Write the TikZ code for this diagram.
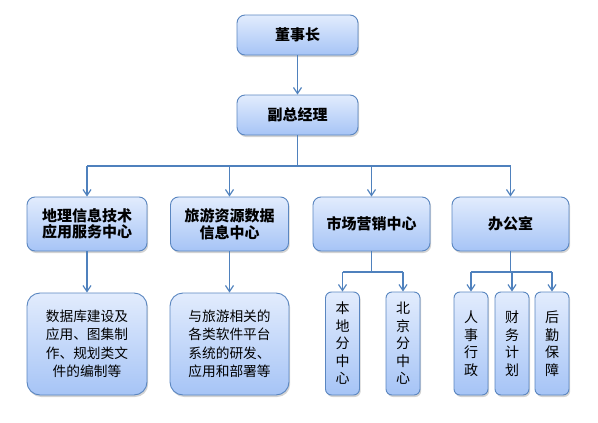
\documentclass[tikz,border=0pt]{standalone}
\usepackage{fontspec}
\setmainfont{Noto Sans CJK SC}
\usetikzlibrary{arrows.meta,shadows}
\definecolor{boxline}{HTML}{5A86C0}
\definecolor{boxtop}{HTML}{E2ECFD}
\definecolor{boxbot}{HTML}{A6C4F6}
\definecolor{wire}{HTML}{4F81BD}
\tikzset{
  unit/.style={draw=boxline, line width=0.9pt, top color=boxtop, bottom color=boxbot,
    drop shadow={shadow xshift=1.2pt, shadow yshift=-2pt, opacity=0.35},
    align=center, inner sep=0pt},
  head/.style={unit, rounded corners=8pt, font=\bfseries\fontsize{15}{16.5}\selectfont},
  task/.style={unit, rounded corners=13pt, minimum height=102pt, font=\fontsize{13.7}{18.5}\selectfont},
  slim/.style={unit, rounded corners=6pt, minimum width=34pt, minimum height=103pt, font=\fontsize{14}{17.5}\selectfont},
  wire/.style={draw=wire, line width=1.2pt},
  feed/.style={wire, -{Straight Barb[length=6pt,width=8pt]}}
}
\begin{document}
\begin{tikzpicture}[x=1pt,y=-1pt]
\useasboundingbox (0,0) rectangle (598,423);
% top
\node[head, minimum width=121pt, minimum height=40pt] (chair) at (297.5,35) {董事长};
\node[head, minimum width=121pt, minimum height=40pt] (gm) at (297.5,115) {副总经理};
% centres
\node[head, minimum width=120pt, minimum height=54pt] (geo) at (87,224) {地理信息技术\\应用服务中心};
\node[head, minimum width=118pt, minimum height=54pt] (tour) at (229.5,224) {旅游资源数据\\信息中心};
\node[head, minimum width=117pt, minimum height=54pt] (mkt) at (371.5,224) {市场营销中心};
\node[head, minimum width=117pt, minimum height=54pt] (office) at (510.5,224) {办公室};
% tasks
\node[task, minimum width=120pt] (geodesc) at (87,344) {数据库建设及\\应用、图集制\\作、规划类文\\件的编制等};
\node[task, minimum width=119pt] (tourdesc) at (229.5,344) {与旅游相关的\\各类软件平台\\系统的研发、\\应用和部署等};
\node[slim] (local) at (342.5,343.5) {本\\地\\分\\中\\心};
\node[slim] (bj) at (403,343.5) {北\\京\\分\\中\\心};
\node[slim] (hr) at (471,343.5) {人\\事\\行\\政};
\node[slim] (fin) at (512,343.5) {财\\务\\计\\划};
\node[slim] (log) at (552,343.5) {后\\勤\\保\\障};
% buses
\coordinate (bus) at (0,166);
\coordinate (mbus) at (0,272);
\draw[feed] (chair) -- (gm);
\draw[wire] (gm.south) -- (gm.south |- bus);
\draw[wire] (geo.north |- bus) -- (office.north |- bus);
\foreach \n in {geo,tour,mkt,office}
  \draw[feed] (\n.north |- bus) -- (\n.north);
\draw[feed] (geo) -- (geodesc);
\draw[feed] (tour) -- (tourdesc);
\draw[wire] (mkt.south) -- (mkt.south |- mbus);
\draw[wire] (local.north |- mbus) -- (bj.north |- mbus);
\draw[wire] (office.south) -- (office.south |- mbus);
\draw[wire] (hr.north |- mbus) -- (log.north |- mbus);
\foreach \n in {local,bj,hr,fin,log}
  \draw[feed] (\n.north |- mbus) -- (\n.north);
\end{tikzpicture}
\end{document}
